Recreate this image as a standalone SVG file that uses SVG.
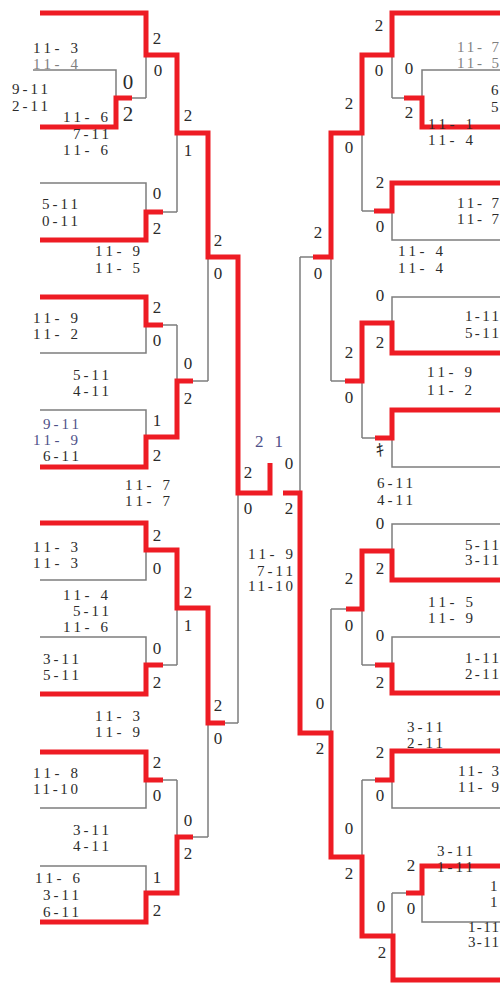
<svg xmlns="http://www.w3.org/2000/svg" width="500" height="989" viewBox="0 0 500 989">
<style>
.g{fill:none;stroke:#7d7d7d;stroke-width:1.5}
.r{fill:none;stroke:#ee1c24;stroke-width:5;stroke-linejoin:miter}
text{font-family:"Liberation Serif","Noto Sans CJK JP",serif;font-size:15px;fill:#2b2b2b}
.s{text-anchor:middle;font-size:17px}
.big{font-size:21px}
.lt{fill:#808080}
.bl{fill:#4d5088}
</style>
<rect width="500" height="989" fill="#ffffff"/>
<g id="connectors">
<path class="g" d="M33 70H116V127H40M116 98H146M40 13H146V98M146 55H177M177 55V212M40 183H146V240H40M146 212H177M177 133H208M208 133V381M40 297H146V353H40M146 325H177M40 410H146V467H40M146 437H177M177 325V437M177 381H208M208 257H238M238 257V723M40 523H146V580H40M146 550H177M40 637H146V694H40M146 665H177M177 550V665M177 608H208M208 608V837M208 723H238M40 752H146V808H40M146 780H177M40 866H146V922H40M146 893H177M177 780V893M177 837H208"/>
<path class="g" d="M500 13H392V98M500 70H422V127H500M422 98H392M392 55H362M362 55V211M500 183H392V240H500M392 211H362M362 133H331M331 133V381M500 297H392V353H500M392 323H362M500 410H392V467H500M392 438H362M362 323V438M362 381H331M331 257H300M300 257V733M500 524H392V580H500M392 551H362M500 637H392V693H500M392 665H362M362 551V665M362 609H331M331 609V857M331 733H300M500 751H392V808H500M392 780H362M500 866H422V922H500M422 893H392M392 893V980H500M392 936H362M362 780V936M362 857H331"/>
<path class="r" d="M40 13H146V55H177V133H208V257H238V493H270V463"/>
<path class="r" d="M40 127H116V98H132"/>
<path class="r" d="M40 240H146V212H163"/>
<path class="r" d="M40 297H146V325H163"/>
<path class="r" d="M40 467H146V437H177V381H193"/>
<path class="r" d="M40 523H146V550H177V608H208V723H225"/>
<path class="r" d="M40 694H146V665H163"/>
<path class="r" d="M40 752H146V780H163"/>
<path class="r" d="M40 922H146V893H177V837H193"/>
<path class="r" d="M500 13H392V55H362V133H331V257H313"/>
<path class="r" d="M500 127H422V98H404"/>
<path class="r" d="M500 183H392V211H374"/>
<path class="r" d="M500 353H392V323H362V381H345"/>
<path class="r" d="M500 410H392V438H375"/>
<path class="r" d="M500 580H392V551H362V609H346"/>
<path class="r" d="M500 693H392V665H375"/>
<path class="r" d="M500 751H392V780H375"/>
<path class="r" d="M500 866H422V893H406"/>
<path class="r" d="M500 980H393V936H362V857H331V733H300V493H283"/>
</g>
<g id="left-r1-a">
<text x="33" y="53" textLength="45">11- 3</text>
<text class="lt" x="33" y="69" textLength="45">11- 4</text>
<text x="12" y="94" textLength="36">9-11</text>
<text x="12" y="111" textLength="36">2-11</text>
<text x="63" y="122" textLength="45">11- 6</text>
<text x="73" y="139" textLength="36">7-11</text>
<text x="63" y="155" textLength="45">11- 6</text>
<text class="s big" x="128" y="89">0</text>
<text class="s big" x="128" y="121">2</text>
</g>
<g id="left-r1-b"><text class="s" x="157" y="44">2</text><text class="s" x="158" y="76">0</text></g>
<g id="left-r2-a"><text class="s" x="188" y="121">2</text><text class="s" x="188" y="156">1</text></g>
<g id="left-r1-c">
<text x="42" y="209" textLength="36">5-11</text>
<text x="42" y="226" textLength="36">0-11</text>
<text x="95" y="256" textLength="45">11- 9</text>
<text x="95" y="273" textLength="45">11- 5</text>
<text class="s" x="157" y="199">0</text><text class="s" x="157" y="234">2</text>
</g>
<g id="left-r3-a"><text class="s" x="218" y="246">2</text><text class="s" x="218" y="279">0</text></g>
<g id="left-r1-d">
<text x="33" y="323" textLength="45">11- 9</text>
<text x="33" y="339" textLength="45">11- 2</text>
<text x="73" y="380" textLength="36">5-11</text>
<text x="73" y="396" textLength="36">4-11</text>
<text class="s" x="157" y="313">2</text><text class="s" x="157" y="346">0</text>
</g>
<g id="left-r2-b"><text class="s" x="188" y="369">0</text><text class="s" x="188" y="404">2</text></g>
<g id="left-r1-e">
<text class="bl" x="43" y="429" textLength="36">9-11</text>
<text class="bl" x="33" y="445" textLength="45">11- 9</text>
<text x="43" y="461" textLength="36">6-11</text>
<text x="125" y="490" textLength="45">11- 7</text>
<text x="125" y="506" textLength="45">11- 7</text>
<text class="s" x="157" y="426">1</text><text class="s" x="157" y="461">2</text>
</g>
<g id="left-semi"><text class="s" x="248" y="478">2</text><text class="s" x="248" y="514">0</text></g>
<g id="left-r1-f">
<text x="33" y="552" textLength="45">11- 3</text>
<text x="33" y="568" textLength="45">11- 3</text>
<text x="63" y="600" textLength="45">11- 4</text>
<text x="73" y="616" textLength="36">5-11</text>
<text x="63" y="632" textLength="45">11- 6</text>
<text class="s" x="157" y="541">2</text><text class="s" x="157" y="574">0</text>
</g>
<g id="left-r2-c"><text class="s" x="188" y="598">2</text><text class="s" x="188" y="631">1</text></g>
<g id="left-r1-g">
<text x="43" y="664" textLength="36">3-11</text>
<text x="43" y="680" textLength="36">5-11</text>
<text x="95" y="721" textLength="45">11- 3</text>
<text x="95" y="737" textLength="45">11- 9</text>
<text class="s" x="157" y="654">0</text><text class="s" x="157" y="688">2</text>
</g>
<g id="left-r3-b"><text class="s" x="218" y="711">2</text><text class="s" x="218" y="744">0</text></g>
<g id="left-r1-h">
<text x="33" y="778" textLength="45">11- 8</text>
<text x="33" y="794" textLength="45">11-10</text>
<text x="73" y="835" textLength="36">3-11</text>
<text x="73" y="851" textLength="36">4-11</text>
<text class="s" x="157" y="768">2</text><text class="s" x="157" y="801">0</text>
</g>
<g id="left-r2-d"><text class="s" x="188" y="826">0</text><text class="s" x="188" y="859">2</text></g>
<g id="left-r1-i">
<text x="35" y="883" textLength="45">11- 6</text>
<text x="43" y="900" textLength="36">3-11</text>
<text x="43" y="917" textLength="36">6-11</text>
<text class="s" x="157" y="883">1</text><text class="s" x="157" y="916">2</text>
</g>
<g id="final">
<text class="bl" x="255" y="447" textLength="28" style="font-size:17px">2 1</text>
<text x="248" y="559" textLength="45">11- 9</text>
<text x="257" y="576" textLength="36">7-11</text>
<text x="248" y="591" textLength="45">11-10</text>
</g>
<g id="right-semi"><text class="s" x="289" y="469">0</text><text class="s" x="289" y="514">2</text></g>
<g id="right-r1-a">
<text class="lt" x="457" y="52" textLength="42">11- 7</text>
<text class="lt" x="457" y="68" textLength="42">11- 5</text>
<text x="491" y="95">6</text>
<text x="491" y="112">5</text>
<text x="428" y="129" textLength="45">11- 1</text>
<text x="428" y="145" textLength="45">11- 4</text>
<text class="s" x="409" y="74">0</text><text class="s" x="409" y="118">2</text>
</g>
<g id="right-r1-b"><text class="s" x="379" y="31">2</text><text class="s" x="379" y="76">0</text></g>
<g id="right-r2-a"><text class="s" x="349" y="109">2</text><text class="s" x="349" y="153">0</text></g>
<g id="right-r1-c">
<text x="457" y="208" textLength="42">11- 7</text>
<text x="457" y="224" textLength="42">11- 7</text>
<text x="398" y="256" textLength="45">11- 4</text>
<text x="398" y="273" textLength="45">11- 4</text>
<text class="s" x="380" y="188">2</text><text class="s" x="380" y="232">0</text>
</g>
<g id="right-r3-a"><text class="s" x="318" y="238">2</text><text class="s" x="318" y="279">0</text></g>
<g id="right-r1-d">
<text x="465" y="321" textLength="34">1-11</text>
<text x="465" y="338" textLength="34">5-11</text>
<text x="427" y="377" textLength="45">11- 9</text>
<text x="427" y="395" textLength="45">11- 2</text>
<text class="s" x="380" y="301">0</text><text class="s" x="380" y="348">2</text>
</g>
<g id="right-r2-b"><text class="s" x="349" y="358">2</text><text class="s" x="349" y="403">0</text></g>
<g id="right-r1-e">
<text class="s" x="380" y="456">ｷ</text>
<text x="377" y="488" textLength="36">6-11</text>
<text x="377" y="505" textLength="36">4-11</text>
</g>
<g id="right-r1-f">
<text x="465" y="550" textLength="34">5-11</text>
<text x="465" y="565" textLength="34">3-11</text>
<text x="428" y="607" textLength="45">11- 5</text>
<text x="428" y="623" textLength="45">11- 9</text>
<text class="s" x="380" y="529">0</text><text class="s" x="380" y="574">2</text>
</g>
<g id="right-r2-c"><text class="s" x="349" y="584">2</text><text class="s" x="349" y="631">0</text></g>
<g id="right-r1-g">
<text x="465" y="663" textLength="34">1-11</text>
<text x="465" y="679" textLength="34">2-11</text>
<text class="s" x="380" y="641">0</text><text class="s" x="380" y="688">2</text>
</g>
<g id="right-r3-b"><text class="s" x="320" y="709">0</text><text class="s" x="320" y="754">2</text></g>
<g id="right-r1-h">
<text x="407" y="732" textLength="36">3-11</text>
<text x="407" y="748" textLength="36">2-11</text>
<text x="458" y="776" textLength="41">11- 3</text>
<text x="458" y="792" textLength="41">11- 9</text>
<text class="s" x="380" y="758">2</text><text class="s" x="380" y="801">0</text>
</g>
<g id="right-r2-d"><text class="s" x="349" y="834">0</text><text class="s" x="349" y="879">2</text></g>
<g id="right-r1-i">
<text x="437" y="856" textLength="36">3-11</text>
<text x="437" y="872" textLength="36">1-11</text>
<text x="490" y="891">1</text>
<text x="490" y="907">1</text>
<text x="468" y="932" textLength="31">1-11</text>
<text x="468" y="947" textLength="31">3-11</text>
<text class="s" x="411" y="871">2</text><text class="s" x="411" y="914">0</text>
</g>
<g id="right-r1-j"><text class="s" x="381" y="912">0</text><text class="s" x="382" y="958">2</text></g>
</svg>
